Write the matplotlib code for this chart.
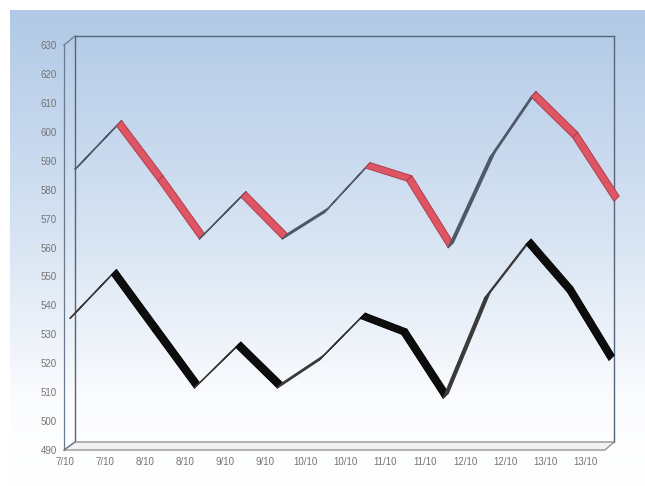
import numpy as np
import matplotlib
matplotlib.use('Agg')
import matplotlib.pyplot as plt
from matplotlib.colors import LinearSegmentedColormap
from matplotlib.lines import Line2D
from matplotlib.patches import Polygon

# Month labels along the front of the floor
months = ['7/10', '7/10', '8/10', '8/10', '9/10', '9/10', '10/10',
          '10/10', '11/10', '11/10', '12/10', '12/10', '13/10', '13/10']

# Upper series (red ribbon) and lower series (black ribbon)
upper = [584, 599, 580, 560, 574.5, 560, 569, 584.5, 580, 557, 588, 609, 595, 573]
lower = [534, 549, 529.5, 510, 524, 510, 519.5, 534, 528.5, 506.5, 541, 559.5, 543, 519.5]

y_ticks = list(range(490, 631, 10))

W, H = 645, 486
DEPTH = np.array([5.2, 5.2])  # ribbon depth in pixels (right / up)


def fig_box(left, top, right, bottom):
    """pixel box (top-left origin) -> figure fraction rect"""
    return [left / W, 1 - bottom / H, (right - left) / W, (bottom - top) / H]


def draw_ribbon(ax, xs, ys, shift, face_down, face_up, edge_down, edge_up):
    # fake 3D ribbon: each segment becomes a quad pushed back by DEPTH
    pts = ax.transData.transform(np.column_stack([xs, ys])) + shift
    inv = ax.transData.inverted()
    for p0, p1 in zip(pts[:-1], pts[1:]):
        quad = inv.transform(np.array([p0, p1, p1 + DEPTH, p0 + DEPTH]))
        falling = p1[1] < p0[1]
        ax.add_patch(Polygon(quad, closed=True,
                             fc=face_down if falling else face_up,
                             ec=edge_down if falling else edge_up,
                             lw=0.7 if falling else 1.0,
                             joinstyle='round', clip_on=False, zorder=3))


fig = plt.figure(figsize=(W / 100, H / 100), dpi=100)
fig.patch.set_facecolor('white')

# background gradient panel
bg = fig.add_axes(fig_box(10, 10, 645, 486))
grad = LinearSegmentedColormap.from_list(
    'bg', [(0.0, '#b1c9e6'), (0.45, '#d5e2f2'), (0.82, '#fbfcfe'), (1.0, '#ffffff')])
bg.imshow(np.linspace(0, 1, 256)[:, None], aspect='auto', cmap=grad,
          extent=[0, 1, 0, 1], origin='upper')
bg.set_axis_off()

# front axis: carries the tick labels
front = fig.add_axes(fig_box(64, 45, 605, 450))
front.patch.set_alpha(0)
front.set_xlim(-0.025, 13.5)
front.set_ylim(490, 630)
front.set_yticks(y_ticks)
front.set_xticks(range(len(months)))
front.set_xticklabels(months)
front.tick_params(length=0, labelsize=7, labelcolor='#747474')
front.tick_params(axis='y', pad=5)
front.tick_params(axis='x', pad=5)
for lab in front.get_xticklabels() + front.get_yticklabels():
    lab.set_fontfamily('Liberation Sans')
for side in ['top', 'right', 'bottom']:
    front.spines[side].set_visible(False)
front.spines['left'].set_color('#6a7a8e')
front.spines['left'].set_linewidth(0.9)

# back wall: carries the data
ax = fig.add_axes(fig_box(75, 36, 614, 442))
ax.patch.set_alpha(0)
ax.set_xlim(0, len(months) - 1)
ax.set_ylim(490, 630)
ax.set_xticks([])
ax.set_yticks([])
for side in ['top', 'left', 'right']:
    ax.spines[side].set_color('#55657a')
    ax.spines[side].set_linewidth(1.0)
ax.spines['bottom'].set_color('#9a9a9a')
ax.spines['bottom'].set_linewidth(0.8)

# floor slab and the corner edges joining front and back
floor = [(64, 450), (605, 450), (614, 442), (75, 442)]
fig.add_artist(Polygon([(x / W, 1 - y / H) for x, y in floor], closed=True,
                       fc='#f2f2f2', ec='#8a8a8a', lw=0.9,
                       transform=fig.transFigure))
for (x0, y0), (x1, y1) in [((64, 45), (75, 36)), ((64, 450), (75, 442))]:
    fig.add_artist(Line2D([x0 / W, x1 / W], [1 - y0 / H, 1 - y1 / H],
                          color='#6a7a8e', lw=0.9, transform=fig.transFigure))

x = np.arange(len(months))
draw_ribbon(ax, x, upper, np.array([0.0, 0.0]),
            '#de5664', '#4e5868', '#b23c4a', '#4e5868')
draw_ribbon(ax, x, lower, np.array([-5.0, -4.0]),
            '#0d0d0d', '#3a3a3a', '#000000', '#3a3a3a')

fig.savefig('out.png', dpi=100)
